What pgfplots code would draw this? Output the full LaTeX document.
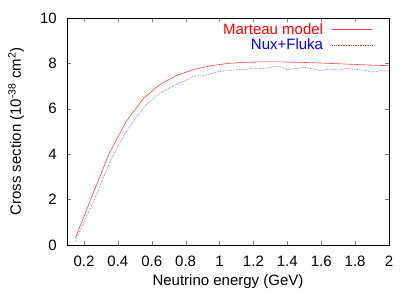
\documentclass[border=0pt]{standalone}
\usepackage{pgfplots}
\pgfplotsset{compat=1.18}
\usepackage{fontspec}
\setmainfont{Liberation Sans}
\definecolor{mred}{RGB}{255,70,70}
\definecolor{mblue}{RGB}{80,80,255}
\pgfplotsset{
  legred/.style={legend image code/.code={\draw[draw=mred, line width=0.7pt] (0pt,0pt) -- (40pt,0pt);}},
  legblue/.style={legend image code/.code={\draw[draw=mblue, densely dotted, line width=0.7pt] (0pt,0pt) -- (40pt,0pt);}},
}
\begin{document}
\fontsize{15}{18}\selectfont
\begin{tikzpicture}
\begin{axis}[
  name=ax,
  scale only axis,
  width=322pt, height=227pt,
  xmin=0.1, xmax=2, ymin=0, ymax=10,
  xtick={0.2,0.4,...,2.0},
  xticklabels={0.2,0.4,0.6,0.8,1,1.2,1.4,1.6,1.8,2},
  ytick={0,2,4,6,8,10},
  tick align=inside,
  tick pos=both,
  major tick length=4pt,
  /pgf/number format/assume math mode=true,
  tick label style={font=\fontsize{15}{18}\selectfont},
  label style={font=\fontsize{15}{18}\selectfont},
  xticklabel style={yshift=-6pt},
  yticklabel style={xshift=-5pt},
  xlabel={Neutrino energy (GeV)},
  ylabel={Cross section (10\textsuperscript{-38} cm\textsuperscript{2})},
  xlabel style={yshift=2pt},
  ylabel style={yshift=6pt},
  axis line style={line width=0.6pt},
  legend style={fill=none, draw=none, inner sep=0pt, nodes={inner sep=1pt},
    column sep=8pt,
    at={(rel axis cs:1,1)}, anchor=north east, xshift=-16pt, yshift=-4pt,
    font=\fontsize{15}{18}\selectfont},
  legend cell align=right,
  legend plot pos=right,
]
\addplot[draw=mred, line width=0.6pt, legred] coordinates {
(0.15,0.32) (0.25,2.2) (0.35,4.05) (0.45,5.45) (0.55,6.45) (0.65,7.08)
(0.75,7.48) (0.85,7.74) (0.95,7.9) (1.05,8.0) (1.15,8.05) (1.25,8.07)
(1.35,8.07) (1.45,8.05) (1.55,8.03) (1.65,8.0) (1.75,7.97) (1.85,7.94)
(1.95,7.91) (2.0,7.9)
};
\addlegendentry{\textcolor{red}{Marteau model}}
\addplot[draw=mblue, densely dotted, line width=0.6pt, legblue] coordinates {
(0.15,0.2) (0.2,1.0) (0.25,1.8) (0.3,2.7) (0.35,3.6) (0.4,4.35) (0.45,5.0)
(0.5,5.55) (0.55,6.05) (0.6,6.4) (0.65,6.7) (0.7,6.9) (0.75,7.1) (0.8,7.25)
(0.85,7.45) (0.9,7.45) (0.95,7.55) (1.0,7.65) (1.05,7.68) (1.1,7.72)
(1.15,7.72) (1.2,7.8) (1.25,7.77) (1.3,7.82) (1.35,7.88) (1.4,7.72)
(1.45,7.78) (1.5,7.82) (1.55,7.76) (1.6,7.68) (1.65,7.76) (1.7,7.7)
(1.75,7.78) (1.8,7.74) (1.85,7.7) (1.9,7.62) (1.95,7.68) (2.0,7.66)
};
\addlegendentry{\textcolor{blue}{Nux+Fluka}}
\end{axis}
\path ([shift={(-67pt,-46pt)}]ax.south west) rectangle ([shift={(26pt,18pt)}]ax.north east);
\end{tikzpicture}
\end{document}
